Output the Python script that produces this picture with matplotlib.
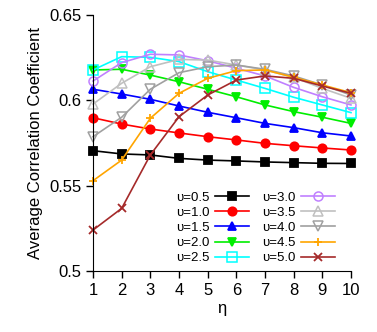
import matplotlib
matplotlib.use("Agg")
import matplotlib.pyplot as plt
from matplotlib.ticker import FixedLocator

plt.rcParams['font.family'] = ['Liberation Sans', 'DejaVu Sans']

# data
eta = [1, 2, 3, 4, 5, 6, 7, 8, 9, 10]
labels = ["υ=0.5", "υ=1.0", "υ=1.5", "υ=2.0", "υ=2.5",
          "υ=3.0", "υ=3.5", "υ=4.0", "υ=4.5", "υ=5.0"]
u05 = [0.5705, 0.5686, 0.568, 0.566, 0.565, 0.5645, 0.5639, 0.5635, 0.5631, 0.563]
u10 = [0.5898, 0.5861, 0.5832, 0.5809, 0.5787, 0.5768, 0.5748, 0.5734, 0.5721, 0.5709]
u15 = [0.6065, 0.6037, 0.6006, 0.5967, 0.593, 0.5898, 0.5865, 0.584, 0.581, 0.5791]
u20 = [0.6178, 0.6182, 0.6148, 0.6109, 0.6065, 0.6021, 0.5973, 0.5934, 0.5901, 0.5865]
u25 = [0.6178, 0.6256, 0.6252, 0.6227, 0.6168, 0.6119, 0.607, 0.6018, 0.5973, 0.5928]
u30 = [0.6113, 0.6221, 0.627, 0.6266, 0.6232, 0.6188, 0.6143, 0.6076, 0.6021, 0.5973]
u35 = [0.5978, 0.61, 0.6197, 0.624, 0.6236, 0.6207, 0.6178, 0.6135, 0.607, 0.6012]
u40 = [0.5787, 0.5901, 0.6065, 0.6162, 0.6197, 0.6207, 0.6182, 0.6143, 0.609, 0.6031]
u45 = [0.5529, 0.565, 0.5895, 0.6041, 0.6129, 0.6174, 0.6178, 0.6135, 0.609, 0.6045]
u50 = [0.524, 0.5367, 0.568, 0.5904, 0.6031, 0.6119, 0.6143, 0.6129, 0.6084, 0.6041]

series = [u05, u10, u15, u20, u25, u30, u35, u40, u45, u50]
colors = ["black", "#ff0000", "#0000ff", "#00ee00", "#00ffff",
          "#c080ff", "#c0c0c0", "#a0a0a0", "#ffa500", "#a52a2a"]
markers = ["s", "o", "^", "v", "s", "o", "^", "v", "+", "x"]
filled = [True, True, True, True, False, False, False, False, True, True]

fig = plt.figure(figsize=(3.77, 3.32), dpi=100)
ax = fig.add_axes([0.2467, 0.1837, 0.6843, 0.7711])

for i in range(len(series)):
    if filled[i]:
        ax.plot(eta, series[i], color=colors[i], marker=markers[i], markersize=6,
                markeredgewidth=1.3, linewidth=1.2, label=labels[i], clip_on=False)
    else:
        ax.plot(eta, series[i], color=colors[i], marker=markers[i], markersize=6.5,
                markerfacecolor="none", markeredgewidth=1.1, linewidth=1.2,
                label=labels[i], clip_on=False)

ax.set_xlim(1, 10)
ax.set_ylim(0.5, 0.65)
ax.xaxis.set_major_locator(FixedLocator(eta))
ax.set_yticks([0.5, 0.55, 0.6, 0.65])
ax.set_yticklabels(["0.5", "0.55", "0.6", "0.65"])
ax.spines["top"].set_visible(False)
ax.spines["right"].set_visible(False)
ax.tick_params(direction="out", length=5, width=1, labelsize=12)
ax.set_xlabel("η", fontsize=12, labelpad=2)
ax.set_ylabel("Average Correlation Coefficient", fontsize=12, labelpad=4)

ax.legend(ncol=2, loc="lower right", bbox_to_anchor=(0.975, -0.01), frameon=False,
          markerfirst=False, fontsize=9.5, handlelength=2.6, columnspacing=1.0,
          labelspacing=0.22, handletextpad=0.4, borderpad=0.2)

fig.savefig("out.png", dpi=100)
